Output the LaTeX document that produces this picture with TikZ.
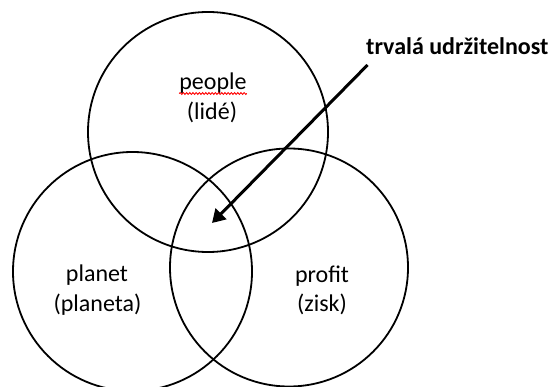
\documentclass[tikz,border=0pt]{standalone}
\usepackage{fontspec}
\setmainfont{Carlito}
\usetikzlibrary{arrows.meta,decorations.pathmorphing,calc}
\begin{document}
\begin{tikzpicture}[x=1pt,y=-1pt,
  ring/.style={circle,draw=black,line width=1.8pt,inner sep=0pt},
  lbl/.style={anchor=base,inner sep=0pt,font=\fontsize{24}{29}\selectfont},
  ttl/.style={anchor=base west,inner sep=0pt,font=\fontsize{24}{29}\selectfont\bfseries},
  pointer/.style={line width=3pt,-{Triangle[length=13pt,width=15pt]}},
  squiggle/.style={red,line width=0.9pt,decorate,decoration={snake,amplitude=0.9pt,segment length=3.2pt}}]
\useasboundingbox (0,0) rectangle (554,387);
\clip (0,0) rectangle (554,387);
\fill[white] (0,0) rectangle (554,387);
\node[ring,minimum size=240pt] (people) at (208,132) {};
\node[ring,minimum size=239pt] (planet) at (132.5,271.5) {};
\node[ring,minimum size=238pt] (profit) at (289,267.5) {};
\node[lbl] (peopleA) at (213,90) {people};
\node[lbl] (peopleB) at (212,120) {(lidé)};
\node[lbl] (planetA) at (97,282) {planet};
\node[lbl] (planetB) at (97.5,311) {(planeta)};
\node[lbl] (profitA) at (322,283) {profit};
\node[lbl] (profitB) at (322,312) {(zisk)};
\node[ttl] (title) at (366,55) {trvalá udržitelnost};
\coordinate (start) at (367.5,65);
\coordinate (core) at (212,223);
\draw[pointer] (start) -- (core);
\coordinate (sqA) at ($(peopleA.base west)+(0,3.5)$);
\coordinate (sqB) at ($(peopleA.base east)+(0,3.5)$);
\draw[squiggle] (sqA) -- (sqB);
\end{tikzpicture}
\end{document}
